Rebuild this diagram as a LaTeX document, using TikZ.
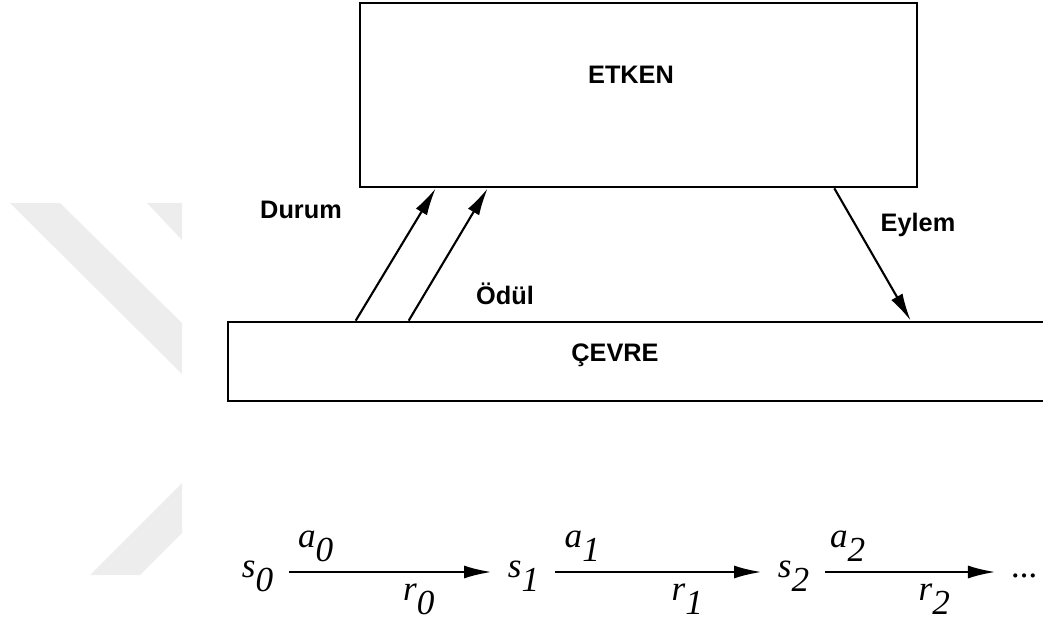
\documentclass[tikz,border=0pt]{standalone}
\usepackage{fontspec}
\newfontfamily\lblfont{Liberation Sans}
\newfontfamily\seqfont{Liberation Serif}
\usetikzlibrary{arrows.meta, positioning}

% letter with a lowered index of the same size
\newcommand{\idx}[2]{#1\raisebox{-0.4em}{#2}}

\begin{document}
\begin{tikzpicture}[
    >={Latex[length=5.5mm, width=2.6mm]},
    kutu/.style={draw, line width=1.5pt, inner sep=0pt},
    lbl/.style={font=\lblfont\bfseries\fontsize{14.4}{17}\selectfont},
    okl/.style={->, line width=1.2pt},
    durum/.style={font=\seqfont\itshape\fontsize{20}{24}\selectfont,
    inner xsep=3.2mm, inner ysep=0pt, text height=0.5em, text depth=0.5em},
    ust/.style={font=\seqfont\itshape\fontsize{20}{24}\selectfont,
    inner sep=0pt, anchor=base, pos=0.13, yshift=5mm},
    alt/.style={font=\seqfont\itshape\fontsize{20}{24}\selectfont,
    inner sep=0pt, anchor=base, pos=0.64, yshift=-5.6mm},
    iz/.style={fill=black!7, draw=none}
  ]
  \useasboundingbox (0,0) rectangle (20.86,-12.52);
  \clip (0,0) rectangle (20.86,-12.52);

  % faint background bands
  \fill[iz] (0.2,-4.06) -- (1.2,-4.06) -- (3.64,-6.46) -- (3.64,-7.48) -- cycle;
  \fill[iz] (2.94,-4.06) -- (3.64,-4.06) -- (3.64,-4.8) -- cycle;
  \fill[iz] (1.8,-11.5) -- (2.8,-11.5) -- (3.64,-10.66) -- (3.64,-9.66) -- cycle;

  % Agent and environment
  \node[kutu, minimum width=11.14cm, minimum height=3.68cm] (etken) at (12.77,-1.9) {};
  \node[lbl] (etkenlbl) at (12.62,-1.5) {ETKEN};
  \node[kutu, minimum width=17.44cm, minimum height=1.58cm] (cevre) at (13.28,-7.23) {};
  \node[lbl] (cevrelbl) at (12.3,-7.1) {ÇEVRE};

  % State, reward and action
  \draw[okl] ([xshift=25.8mm]cevre.north west) -- ([xshift=15.4mm]etken.south west);
  \draw[okl] ([xshift=36.4mm]cevre.north west) -- ([xshift=25.8mm]etken.south west);
  \draw[okl] ([xshift=-16.8mm]etken.south east) -- ([xshift=136.8mm]cevre.north west);

  \node[lbl] (durumlbl) at (6.02,-4.2) {Durum};
  \node[lbl] (odullbl) at (10.1,-5.88) {Ödül};
  \node[lbl] (eylemlbl) at (18.36,-4.5) {Eylem};

  % Trajectory
  \node[durum, anchor=base] (s0) at (5.15,-11.54) {\idx{s}{0}};
  \node[durum, anchor=base] (s1) at (10.47,-11.54) {\idx{s}{1}};
  \node[durum, anchor=base] (s2) at (15.87,-11.54) {\idx{s}{2}};
  \node[durum, anchor=base] (dots) at (20.5,-11.54) {...};

  \draw[okl, line width=1.3pt] ([yshift=1mm]s0.east) -- node[ust] {\idx{a}{0}}
    node[alt] {\idx{r}{0}} ([yshift=1mm]s0.east -| s1.west);
  \draw[okl, line width=1.3pt] ([yshift=1mm]s1.east) -- node[ust] {\idx{a}{1}}
    node[alt] {\idx{r}{1}} ([yshift=1mm]s1.east -| s2.west);
  \draw[okl, line width=1.3pt] ([yshift=1mm]s2.east) -- node[ust] {\idx{a}{2}}
    node[alt] {\idx{r}{2}} ([yshift=1mm]s2.east -| dots.west);
\end{tikzpicture}
\end{document}
